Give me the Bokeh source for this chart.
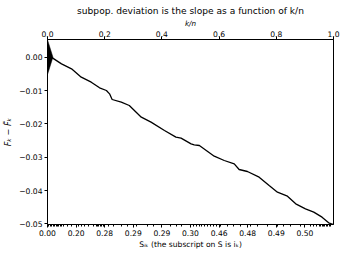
from bokeh.plotting import figure
from bokeh.models import LinearAxis, FixedTicker, Range1d
from bokeh.embed import file_html
from bokeh.resources import INLINE

# ---- data ----
kn = [0.0, 0.017, 0.049, 0.084, 0.118, 0.153, 0.182, 0.206, 0.217, 0.226,
      0.258, 0.286, 0.328, 0.362, 0.409, 0.449, 0.467, 0.502, 0.513, 0.531,
      0.583, 0.618, 0.653, 0.670, 0.699, 0.740, 0.775, 0.804, 0.839, 0.868,
      0.902, 0.931, 0.960, 0.983, 1.0]
deviation = [0.0, -0.0002, -0.0020, -0.0035, -0.0060, -0.0075, -0.0092, -0.0100,
             -0.0110, -0.0127, -0.0135, -0.0145, -0.0180, -0.0195, -0.0220,
             -0.0240, -0.0243, -0.0260, -0.0263, -0.0265, -0.0297, -0.0310,
             -0.0320, -0.0337, -0.0343, -0.0360, -0.0385, -0.0405, -0.0417,
             -0.0440, -0.0455, -0.0465, -0.0480, -0.0497, -0.0502]

triangle_x = [0.0, 0.0, 0.019]
triangle_y = [0.0052, -0.0052, 0.0]

bottom_ticks = [0.0, 0.1, 0.2, 0.3, 0.4, 0.5, 0.6, 0.7, 0.8, 0.9]
bottom_labels = ["0.00", "0.20", "0.28", "0.29", "0.29", "0.30", "0.46", "0.48", "0.49", "0.50"]
bottom_minor = [0.005, 0.01, 0.015, 0.02, 0.025, 0.03, 0.035, 0.04, 0.045, 0.05, 0.055,
                0.07, 0.085, 0.11, 0.12, 0.13, 0.145, 0.16, 0.17, 0.175, 0.18, 0.185,
                0.19, 0.195, 0.215, 0.23, 0.26, 0.28, 0.31, 0.35, 0.37, 0.43, 0.45,
                0.47, 0.51, 0.52, 0.53, 0.54, 0.55, 0.56, 0.57, 0.58, 0.59, 0.605,
                0.63, 0.65, 0.676, 0.71, 0.734, 0.769, 0.804, 0.826, 0.85, 0.885,
                0.92, 0.93, 0.94, 0.95, 0.955, 0.96, 0.965, 0.97, 0.975, 0.98, 0.985, 0.99]
top_ticks = [0.0, 0.2, 0.4, 0.6, 0.8, 1.0]
top_labels = ["0.0", "0.2", "0.4", "0.6", "0.8", "1.0"]
y_ticks = [0.0, -0.01, -0.02, -0.03, -0.04, -0.05]
y_labels = ["0.00", "\u22120.01", "\u22120.02", "\u22120.03", "\u22120.04", "\u22120.05"]

FONT = "DejaVu Sans"

p = figure(width=345, height=254, x_range=Range1d(0, 1), y_range=Range1d(-0.0502, 0.0053),
           output_backend="svg", toolbar_location=None,
           min_border_left=46, min_border_right=12, min_border_top=39, min_border_bottom=30)
p.grid.visible = False
p.outline_line_color = "black"
p.outline_line_width = 1
p.background_fill_color = "white"
p.border_fill_color = "white"

p.title.text = "subpop. deviation is the slope as a function of k/n"
p.title.align = "center"
p.title.text_font = FONT
p.title.text_font_size = "9.1px"
p.title.text_font_style = "normal"
p.title.text_color = "black"
p.title.standoff = 0

def style_axis(ax):
    ax.axis_line_color = "black"
    ax.major_tick_line_color = "black"
    ax.minor_tick_line_color = "black"
    ax.major_tick_out = 3
    ax.major_tick_in = 0
    ax.minor_tick_out = 2
    ax.minor_tick_in = 0
    ax.major_label_text_font = FONT
    ax.major_label_text_font_size = "7.6px"
    ax.major_label_text_color = "black"
    ax.major_label_standoff = 2
    ax.axis_label_text_font = FONT
    ax.axis_label_text_font_size = "7.6px"
    ax.axis_label_text_color = "black"
    ax.axis_label_standoff = 1

xb = p.xaxis[0]
style_axis(xb)
xb.ticker = FixedTicker(ticks=bottom_ticks, minor_ticks=bottom_minor)
xb.major_label_overrides = {t: l for t, l in zip(bottom_ticks, bottom_labels)}
xb.axis_label = "S\u1d62\u2096 (the subscript on S is i\u2096)"
xb.axis_label_text_font_style = "normal"

yl = p.yaxis[0]
style_axis(yl)
yl.ticker = FixedTicker(ticks=y_ticks, minor_ticks=[])
yl.major_label_overrides = {t: l for t, l in zip(y_ticks, y_labels)}
yl.axis_label = "F\u2096 \u2212 F\u0303\u2096"
yl.axis_label_text_font_style = "italic"
yl.axis_label_text_font_size = "8.2px"
yl.axis_label_standoff = 3

xt = LinearAxis()
style_axis(xt)
xt.ticker = FixedTicker(ticks=top_ticks, minor_ticks=[])
xt.major_label_overrides = {t: l for t, l in zip(top_ticks, top_labels)}
xt.axis_label = "k/n"
xt.axis_label_text_font_style = "italic"
xt.axis_label_text_font_size = "7.2px"
xt.axis_label_standoff = 0
xt.major_label_standoff = 0
p.add_layout(xt, "above")

p.patch(triangle_x, triangle_y, fill_color="black", line_color="black", line_width=0.5)
p.line(kn, deviation, line_color="black", line_width=1.3)

open("out.html", "w").write(file_html(p, INLINE))
